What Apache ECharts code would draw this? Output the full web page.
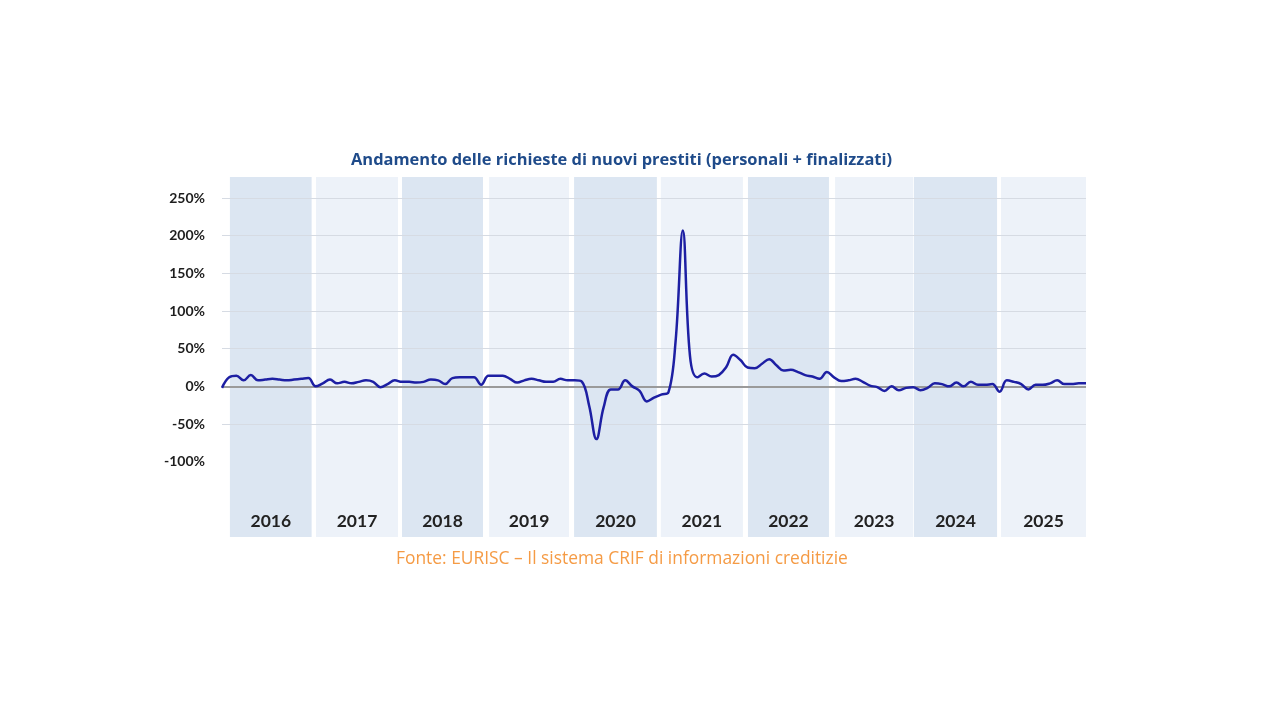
<!DOCTYPE html>
<html>
<head>
<meta charset="utf-8">
<title>Andamento delle richieste di nuovi prestiti</title>
<script src="https://cdn.jsdelivr.net/npm/echarts@6/dist/echarts.min.js"></script>
<style>
  html, body { margin: 0; padding: 0; background: #ffffff; }
  #chart { width: 1280px; height: 720px; }
</style>
</head>
<body>
<div id="chart"></div>
<script>
// anni delle fasce di sfondo
var anni = ['2016', '2017', '2018', '2019', '2020', '2021', '2022', '2023', '2024', '2025'];
// inizio e fine di ogni fascia, in mesi dall'inizio della serie
var inizioFascia = [1.1, 13.05, 25, 37.1, 48.9, 60.95, 73.05, 85.15, 96.1, 108.2];
var fineFascia = [12.45, 24.45, 36.25, 48.2, 60.4, 72.35, 84.3, 96.0, 107.65, 120];

// variazione % delle richieste, un valore al mese (dic 2015 ... dic 2025)
var richieste = [
  -2, 12, 14, 8, 15, 8, 9, 10, 9, 8, 9, 10, 11,
  0, 4, 9, 4, 6, 4, 6, 8, 6, -1, 3, 8,
  6, 6, 5, 6, 9, 8, 3, 11, 12, 12, 12, 2,
  14, 14, 14, 10, 5, 8, 10, 8, 6, 6, 10, 8,
  8, 6, -26, -70, -28, -4, -4, 8, 0, -6, -20, -15,
  -11, -8, 60, 207, 40, 12, 17, 13, 15, 25, 42, 35,
  25, 24, 30, 36, 28, 21, 22, 19, 15, 13, 10, 19,
  12, 7, 8, 10, 6, 1, -1, -6, 0, -5, -2, -1,
  -5, -2, 4, 3, 0, 5, 0, 6, 2, 2, 3, -7,
  8, 6, 3, -4, 2, 2, 4, 8, 3, 3, 4, 4
];

// etichette dell'asse verticale
var tickY = [-100, -50, 0, 50, 100, 150, 200, 250];
// linee della griglia (lo zero ha una linea a parte)
var griglia = [-50, 50, 100, 150, 200, 250];

var coloriFascia = ['#dce6f2', '#edf2f9'];

var punti = [];
for (var i = 0; i < richieste.length; i++) {
  punti.push([i, richieste[i]]);
}

// fasce annuali
var fasce = [];
for (var k = 0; k < anni.length; k++) {
  fasce.push([
    {
      name: anni[k],
      xAxis: inizioFascia[k],
      itemStyle: { color: coloriFascia[k % 2] }
    },
    { xAxis: fineFascia[k] }
  ]);
}

var myChart = echarts.init(document.getElementById('chart'));

var option = {
  backgroundColor: '#ffffff',
  animation: false,
  title: {
    text: 'Andamento delle richieste di nuovi prestiti (personali + finalizzati)',
    left: 346,
    top: 147,
    textStyle: {
      fontFamily: 'Open Sans',
      fontSize: 16.45,
      fontWeight: 'bold',
      color: '#1f4b8a'
    }
  },
  grid: {
    left: 222,
    right: 194,
    top: 177,
    bottom: 183
  },
  xAxis: {
    type: 'value',
    min: 0,
    max: richieste.length - 1,
    show: false
  },
  yAxis: {
    type: 'value',
    min: -200,
    max: 278,
    interval: 50,
    axisLine: { show: false },
    axisTick: { show: false },
    splitLine: { show: false },
    axisLabel: {
      margin: 17,
      fontFamily: 'Lato',
      fontSize: 14,
      fontWeight: 'bold',
      color: '#1e1e1e',
      formatter: function(v) {
        return tickY.indexOf(v) >= 0 ? v + '%' : '';
      }
    }
  },
  series: [
    {
      // fasce colorate degli anni
      type: 'line',
      data: [],
      silent: true,
      markArea: {
        silent: true,
        z: 1,
        label: {
          show: true,
          position: 'insideBottom',
          distance: 7,
          fontFamily: 'Lato',
          fontSize: 17.5,
          fontWeight: 'bold',
          color: '#222222'
        },
        data: fasce
      }
    },
    {
      // griglia orizzontale
      type: 'line',
      data: [],
      silent: true,
      markLine: {
        silent: true,
        z: 2,
        symbol: 'none',
        label: { show: false },
        lineStyle: { color: '#d6dbe3', width: 1, type: 'solid' },
        data: griglia.map(function(v) { return { yAxis: v }; })
          .concat([{ yAxis: 0, lineStyle: { color: '#9a9a9a', width: 2 } }])
      }
    },
    {
      name: 'Richieste',
      type: 'line',
      z: 10,
      data: punti,
      smooth: 0.4,
      showSymbol: false,
      lineStyle: { color: '#1d1fa3', width: 2.5 },
      itemStyle: { color: '#1d1fa3' }
    }
  ],
  graphic: [
    {
      type: 'text',
      left: 396,
      top: 551,
      style: {
        text: 'Fonte: EURISC \u2013 Il sistema CRIF di informazioni creditizie',
        fontFamily: 'Open Sans',
        fontSize: 17.4,
        fill: '#f59b45'
      }
    }
  ]
};

myChart.setOption(option);
</script>
</body>
</html>
